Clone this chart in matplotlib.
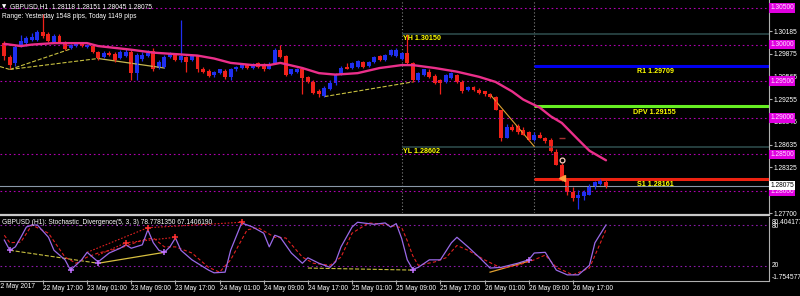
import matplotlib
matplotlib.use("Agg")
import matplotlib.pyplot as plt
import numpy as np

plt.rcParams['font.family'] = ['Liberation Sans', 'DejaVu Sans']

W, H = 800, 296

# ---- price data (GBPUSD H1, bar 0 = 22 May 10:00) ----
opens = [1.3002, 1.2983, 1.2975, 1.2998, 1.3002, 1.3006, 1.3006, 1.3017, 1.3015, 1.3004,
         1.3012, 1.3004, 1.2996, 1.2998, 1.3001, 1.2997, 1.2998, 1.2990, 1.2983, 1.2989,
         1.2987, 1.2982, 1.2985, 1.2990, 1.2961, 1.2981, 1.2985, 1.2991, 1.2968, 1.2970,
         1.2983, 1.2986, 1.2979, 1.2983, 1.2979, 1.2985, 1.2967, 1.2964, 1.2959, 1.2961,
         1.2964, 1.2956, 1.2966, 1.2968, 1.2972, 1.2968, 1.2975, 1.2974, 1.2967, 1.2975,
         1.2993, 1.2985, 1.2960, 1.2963, 1.2966, 1.2956, 1.2949, 1.2937, 1.2930, 1.2940,
         1.2948, 1.2960, 1.2970, 1.2968, 1.2970, 1.2976, 1.2971, 1.2976, 1.2985, 1.2979,
         1.2986, 1.2985, 1.2981, 1.2989, 1.2975, 1.2952, 1.2959, 1.2963, 1.2957, 1.2952,
         1.2949, 1.2955, 1.2959, 1.2949, 1.2938, 1.2942, 1.2938, 1.2936, 1.2932, 1.2929,
         1.2910, 1.2873, 1.2888, 1.2889, 1.2884, 1.2880, 1.2870, 1.2877, 1.2873, 1.2870,
         1.2853, 1.2836, 1.2816, 1.2798, 1.2791, 1.2793, 1.2795, 1.2805, 1.2809, 1.28118]
highs = [1.3005, 1.2986, 1.3000, 1.3013, 1.3012, 1.3016, 1.3020, 1.3042, 1.3017, 1.3015,
         1.3015, 1.3005, 1.3001, 1.3004, 1.3004, 1.3001, 1.3000, 1.2991, 1.2991, 1.2991,
         1.2990, 1.2993, 1.2994, 1.2993, 1.2989, 1.2990, 1.2993, 1.2996, 1.2979, 1.2986,
         1.2990, 1.2987, 1.3034, 1.2985, 1.2986, 1.2986, 1.2970, 1.2967, 1.2964, 1.2967,
         1.2966, 1.2968, 1.2971, 1.2975, 1.2974, 1.2975, 1.2976, 1.2975, 1.2976, 1.2996,
         1.3000, 1.2986, 1.2967, 1.2968, 1.2967, 1.2957, 1.2951, 1.2940, 1.2944, 1.2951,
         1.2961, 1.2971, 1.2975, 1.2976, 1.2979, 1.2978, 1.2978, 1.2985, 1.2986, 1.2987,
         1.2994, 1.2996, 1.2990, 1.3015, 1.2976, 1.2963, 1.2967, 1.2966, 1.2960, 1.2953,
         1.2960, 1.2963, 1.2960, 1.2952, 1.2944, 1.2944, 1.2941, 1.2937, 1.2934, 1.2930,
         1.2911, 1.2891, 1.2892, 1.2892, 1.2887, 1.2882, 1.2880, 1.2880, 1.2874, 1.2873,
         1.2857, 1.2838, 1.2818, 1.2805, 1.2802, 1.2802, 1.2809, 1.2814, 1.2817, 1.28151]
lows = [1.2979, 1.2966, 1.2971, 1.2997, 1.2998, 1.3005, 1.3005, 1.3009, 1.3004, 1.3002,
        1.3002, 1.2993, 1.2994, 1.2997, 1.2997, 1.2996, 1.2989, 1.2979, 1.2982, 1.2985,
        1.2976, 1.2981, 1.2983, 1.2952, 1.2952, 1.2978, 1.2983, 1.2964, 1.2966, 1.2968,
        1.2982, 1.2978, 1.2976, 1.2963, 1.2978, 1.2963, 1.2961, 1.2956, 1.2956, 1.2960,
        1.2953, 1.2952, 1.2964, 1.2967, 1.2967, 1.2967, 1.2968, 1.2964, 1.2966, 1.2974,
        1.2982, 1.2957, 1.2959, 1.2961, 1.2932, 1.2948, 1.2933, 1.2929, 1.2929, 1.2938,
        1.2945, 1.2959, 1.2966, 1.2967, 1.2968, 1.2968, 1.2970, 1.2975, 1.2978, 1.2978,
        1.2985, 1.2983, 1.2979, 1.2974, 1.2949, 1.2949, 1.2957, 1.2955, 1.2946, 1.2932,
        1.2948, 1.2953, 1.2948, 1.2934, 1.2937, 1.2936, 1.2933, 1.2930, 1.2927, 1.2910,
        1.2868, 1.2872, 1.2882, 1.2878, 1.2876, 1.2869, 1.2869, 1.2872, 1.2865, 1.2853,
        1.2835, 1.2814, 1.2795, 1.2787, 1.2775, 1.2788, 1.2794, 1.2803, 1.2808, 1.28045]
closes = [1.2985, 1.2972, 1.2997, 1.3005, 1.3009, 1.3011, 1.3017, 1.3012, 1.3005, 1.3012,
          1.3004, 1.2994, 1.3000, 1.3002, 1.2998, 1.3000, 1.2990, 1.2982, 1.2989, 1.2986,
          1.2979, 1.2990, 1.2990, 1.2961, 1.2986, 1.2986, 1.2989, 1.2966, 1.2976, 1.2983,
          1.2989, 1.2979, 1.2985, 1.2976, 1.2985, 1.2966, 1.2963, 1.2957, 1.2963, 1.2966,
          1.2956, 1.2967, 1.2970, 1.2972, 1.2968, 1.2972, 1.2970, 1.2966, 1.2974, 1.2993,
          1.2983, 1.2959, 1.2966, 1.2966, 1.2955, 1.2949, 1.2934, 1.2932, 1.2941, 1.2948,
          1.2959, 1.2968, 1.2967, 1.2975, 1.2978, 1.2970, 1.2976, 1.2983, 1.2979, 1.2986,
          1.2993, 1.2993, 1.2989, 1.2975, 1.2952, 1.2961, 1.2966, 1.2956, 1.2948, 1.2948,
          1.2959, 1.2961, 1.2949, 1.2936, 1.2942, 1.2938, 1.2934, 1.2933, 1.2929, 1.2911,
          1.2873, 1.2888, 1.2884, 1.2880, 1.2877, 1.2870, 1.2877, 1.2873, 1.2868, 1.2854,
          1.2836, 1.2816, 1.2798, 1.2790, 1.2795, 1.2798, 1.2806, 1.2812, 1.2814, 1.28075]

# moving average read at some bars
ma_idx = [0, 3, 5, 9, 12, 15, 17, 23, 27, 31, 35, 38, 41, 45, 48, 50, 54, 57, 60, 64,
          68, 72, 74, 78, 82, 86, 89, 92, 94, 97, 99, 101, 104, 106, 109]
ma_val = [1.3001, 1.2998, 1.3000, 1.3002, 1.3002, 1.3002, 1.2998, 1.2993, 1.2989, 1.2987,
          1.2985, 1.2981, 1.2975, 1.2972, 1.2972, 1.2975, 1.2968, 1.2961, 1.2959, 1.2961,
          1.2968, 1.2972, 1.2972, 1.2968, 1.2963, 1.2956, 1.2949, 1.2936, 1.2925, 1.2914,
          1.2902, 1.2893, 1.2870, 1.2855, 1.2842]

# pivot levels
yh, yl = 1.30150, 1.28602
r1, dpv, s1 = 1.29709, 1.29155, 1.28161
bid = 1.28075
round_levels = [1.305, 1.300, 1.295, 1.290, 1.285, 1.280]
scale_ticks = [1.30185, 1.29875, 1.29565, 1.29255, 1.28945, 1.28635, 1.28325, 1.27700]
yday_start, today_start = 72, 96

# stochastic (5,3,3)
k_idx = [0, 1, 2, 3, 4, 5, 6, 8, 9, 11, 12, 14, 15, 17, 19, 21, 22, 23, 25, 26, 27, 28, 29, 30,
         31, 32, 34, 35, 37, 38, 40, 41, 43, 45, 47, 48, 49, 50, 52, 54, 55, 57, 59, 60, 61,
         63, 64, 67, 69, 70, 71, 72, 73, 74, 75, 77, 79, 81, 82, 84, 86, 88, 90, 93, 95, 96,
         98, 100, 102, 104, 106, 107, 109]
k_val = [58, 43, 48, 62, 77, 80, 80, 62, 43, 29, 14, 29, 40, 26, 39, 46, 51, 46, 51, 73, 54, 43,
         40, 48, 61, 43, 29, 24, 14, 10, 11, 43, 83, 77, 68, 48, 65, 62, 39, 24, 32, 24, 18, 26,
         48, 77, 84, 81, 83, 77, 82, 60, 29, 15, 18, 29, 29, 54, 62, 48, 33, 17, 18, 24, 29, 39,
         40, 14, 7, 7, 21, 54, 80]
d_idx = [0, 1, 3, 5, 8, 11, 13, 15, 17, 21, 25, 27, 29, 31, 34, 37, 39, 41, 44, 46, 49, 51, 54,
         56, 59, 61, 63, 66, 69, 72, 73, 74, 75, 78, 80, 82, 84, 87, 90, 93, 96, 98, 100, 103,
         106, 108, 109]
d_val = [65, 54, 55, 80, 68, 33, 24, 33, 39, 46, 58, 61, 48, 48, 39, 18, 11, 29, 73, 76, 62, 61,
         33, 24, 21, 33, 68, 83, 81, 76, 57, 35, 21, 26, 32, 50, 43, 29, 17, 21, 29, 36, 18, 7,
         17, 54, 73]
peak_idx = [22, 26, 31, 43]
peak_val = [54, 76, 62, 84]
trough_idx = [1, 12, 17, 29, 74, 95]
trough_val = [43, 14, 24, 40, 14, 29]

time_ticks = [7, 15, 23, 31, 39, 47, 55, 63, 71, 79, 87, 95, 103]
time_labels = ["22 May 17:00", "23 May 01:00", "23 May 09:00", "23 May 17:00", "24 May 01:00",
               "24 May 09:00", "24 May 17:00", "25 May 01:00", "25 May 09:00", "25 May 17:00",
               "26 May 01:00", "26 May 09:00", "26 May 17:00"]

BULL, BEAR = "#1f2ff0", "#f0221a"
FS = 4.8


def rect(x0, y0, x1, y1):
    return [x0 / W, 1 - y1 / H, (x1 - x0) / W, (y1 - y0) / H]


fig = plt.figure(figsize=(8, 2.96), dpi=100, facecolor="black")
ax = fig.add_axes(rect(0, 0, 769, 213), facecolor="black")
sub = fig.add_axes(rect(0, 217, 769, 280), facecolor="black")

xlim = (-4.3 / 5.52, (769 - 4.3) / 5.52)
for a in (ax, sub):
    a.set_xlim(*xlim)
    for s in a.spines.values():
        s.set_visible(False)
    a.spines["right"].set_visible(True)
    a.spines["right"].set_color("#b0b0b0")
ax.set_ylim(1.30609 - 213 * 0.00013624, 1.30609)
sub.set_ylim(-0.5, 91.7)

# ---- main chart ----
n = len(closes)
idx = np.arange(n)
o, h, l, c = map(np.array, (opens, highs, lows, closes))
cols = np.where(c >= o, BULL, BEAR)

for lv in round_levels:
    ax.axhline(lv, color="#b000b0", lw=0.8, ls=(0, (1.5, 2.5)))
for xv in (yday_start, today_start):
    ax.axvline(xv, color="#808080", lw=0.8, ls=(0, (1, 2)))

ax.hlines([yh, yl], yday_start, xlim[1], color="#2f4f4f", lw=1.1)
ax.axhline(bid, color="#8a98a8", lw=0.8)
ax.hlines(r1, today_start, xlim[1], color="#0000ee", lw=2.2)
ax.hlines(dpv, today_start, xlim[1], color="#66ee22", lw=2.2)
ax.hlines(s1, today_start, xlim[1], color="#ee2211", lw=2.2)

# divergence lines on price
ax.plot([-0.78, 1], [1.2970, 1.2966], color="#c8c040", lw=0.8, ls="--")
ax.plot([1, 12], [1.2966, 1.2994], color="#c8c040", lw=0.8, ls="--")
ax.plot([1, 17], [1.2966, 1.2981], color="#c8c040", lw=0.8, ls="--")
ax.plot([17, 29], [1.2981, 1.2968], color="#c8b850", lw=0.9)
ax.plot([58, 74], [1.2929, 1.2949], color="#c8c040", lw=0.8, ls="--")
ax.plot([88, 96], [1.2932, 1.2861], color="#e0a030", lw=0.8)

ax.vlines(idx, l, h, color=cols, lw=0.9)
body = np.maximum(np.abs(c - o), 0.00008)
ax.bar(idx, body, bottom=np.minimum(o, c), width=0.72, color=cols, lw=0)

ax.plot(ma_idx, ma_val, color="#ea2f8a", lw=1.7, solid_capstyle="round")

ax.plot([101], [1.2842], marker="o", ms=3.5, mfc="none", mec="#ffd0c0", mew=0.9)
ax.plot([101], [1.2818], marker="<", ms=4, color="#ffa040")
ax.plot([101], [1.2872], marker="_", ms=4, color="#a03030")

lab = dict(color="#ffff00", fontsize=FS + 0.3, fontweight="bold", va="top")
ax.annotate("YH 1.30150", (yday_start + 0.2, yh), xytext=(0, -1), textcoords="offset points", **lab)
ax.annotate("YL 1.28602", (yday_start + 0.2, yl), xytext=(0, -1), textcoords="offset points", **lab)
ax.annotate("R1 1.29709", (114.6, r1), xytext=(0, -1.5), textcoords="offset points", **lab)
ax.annotate("DPV 1.29155", (113.9, dpv), xytext=(0, -1.5), textcoords="offset points", **lab)
ax.annotate("S1 1.28161", (114.6, s1), xytext=(0, -1.5), textcoords="offset points", **lab)

# price scale
ax.yaxis.tick_right()
ax.set_yticks(scale_ticks)
ax.set_yticklabels([f"{v:.5f}" for v in scale_ticks])
ax.tick_params(axis="y", colors="#b0b0b0", labelcolor="white", length=2, pad=1, labelsize=FS)
ax.set_xticks([])
ytr = ax.get_yaxis_transform()
for lv in round_levels:
    ax.text(1.0015, lv, f"{lv:.5f}", transform=ytr, fontsize=FS, color="#ffe0ff", va="center",
            ha="left", clip_on=False, zorder=5,
            bbox=dict(boxstyle="square,pad=0.2", fc="#e000e0", ec="none"))
ax.text(1.0015, bid, f"{bid:.5f}", transform=ytr, fontsize=FS, color="black", va="center",
        ha="left", clip_on=False, zorder=5,
        bbox=dict(boxstyle="square,pad=0.2", fc="white", ec="none"))

# ---- stochastic window ----
for lv in (80, 20):
    sub.axhline(lv, color="#8a1aa8", lw=0.8, ls=(0, (1.5, 2.5)))
sub.plot([1, 17], [43, 24], color="#c8c040", lw=0.8, ls="--")
sub.plot([55, 74], [17, 14], color="#c8c040", lw=0.8, ls="--")
sub.plot([17, 29], [24, 40], color="#d8c040", lw=0.9)
sub.plot([88, 95], [11, 27], color="#e0a030", lw=0.9)
sub.plot([15, 26], [40, 76], color="#e02020", lw=0.8, ls=(0, (1.5, 1.5)))
sub.plot([17, 22, 31], [36, 54, 62], color="#e02020", lw=0.8, ls=(0, (1.5, 1.5)))
sub.plot([26, 43], [76, 84], color="#e02020", lw=0.8, ls=(0, (1.5, 1.5)))
sub.plot(d_idx, d_val, color="#e02020", lw=0.8, ls=(0, (3, 2)))
sub.plot(k_idx, k_val, color="#9a6ae8", lw=0.9)
sub.plot(peak_idx, peak_val, ls="none", marker="+", ms=5, mew=1.1, color="#ff3030")
sub.plot(trough_idx, trough_val, ls="none", marker="+", ms=5, mew=1.1, color="#c070ff")

sub.set_yticks([])
sub.set_xticks(time_ticks)
sub.set_xticklabels(time_labels)
sub.tick_params(axis="x", colors="#b0b0b0", labelcolor="white", length=3, pad=0.3,
                labelsize=FS, direction="out")
for t in sub.get_xticklabels():
    t.set_horizontalalignment("left")
sub.text(-1.4, -0.1, "22 May 2017", transform=sub.get_xaxis_transform(), fontsize=FS,
         color="white", ha="left", va="center", clip_on=False)
str_ = sub.get_yaxis_transform()
sub.text(1.003, 83, "80.404177", transform=str_, fontsize=FS, color="white", va="center", clip_on=False)
sub.text(1.003, 78, "80", transform=str_, fontsize=FS, color="white", va="center", clip_on=False)
sub.text(1.003, 20, "20", transform=str_, fontsize=FS, color="white", va="center", clip_on=False)
sub.text(1.003, 3, "-1.754577", transform=str_, fontsize=FS, color="white", va="center", clip_on=False)

# separators
fig.add_artist(plt.Line2D([0, 769 / W], [1 - 215 / H] * 2, color="#c8c8c8", lw=1.6))
fig.add_artist(plt.Line2D([0, 769 / W], [1 - 280.5 / H] * 2, color="#b0b0b0", lw=0.8))

# header texts
fig.text(2 / W, 1 - 7 / H, "\u25bc", fontsize=4, color="white", va="center",
         family=["DejaVu Sans"])
fig.text(10 / W, 1 - 7 / H, "GBPUSD,H1  1.28118 1.28151 1.28045 1.28075", fontsize=FS,
         color="white", va="center")
fig.text(2 / W, 1 - 17 / H, "Range: Yesterday 1548 pips, Today 1149 pips", fontsize=FS,
         color="white", va="center")
fig.text(2 / W, 1 - 223 / H, "GBPUSD (H1): Stochastic_Divergence(5, 3, 3) 78.7781350 67.1406190",
         fontsize=FS, color="white", va="center")

fig.savefig("out.png", dpi=100, facecolor="black")
